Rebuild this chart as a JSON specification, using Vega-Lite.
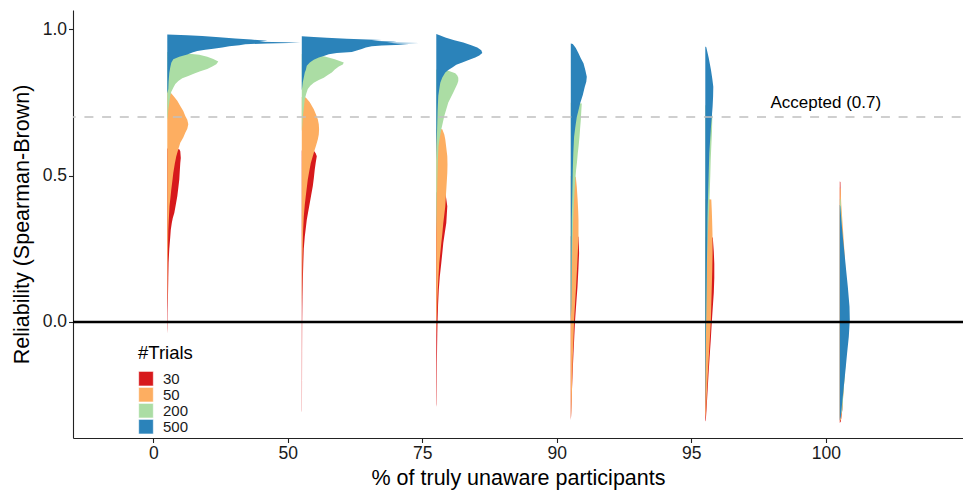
{
"$schema": "https://vega.github.io/schema/vega-lite/v6.json",
"width": 890, "height": 428,
"autosize": "none",
"padding": {"left": 73, "top": 10, "right": 0, "bottom": 55},
"config": {"view": {"stroke": null}, "font": "Liberation Sans", "background": "white"},
"datasets": {
"dens": [
{"p":"0","t":"500","r":0.981,"w":0},{"p":"0","t":"500","r":0.979,"w":20},{"p":"0","t":"500","r":0.976,"w":35},{"p":"0","t":"500","r":0.972,"w":52},{"p":"0","t":"500","r":0.968,"w":68},{"p":"0","t":"500","r":0.964,"w":84},{"p":"0","t":"500","r":0.960,"w":100},{"p":"0","t":"500","r":0.957,"w":92},{"p":"0","t":"500","r":0.955,"w":118},{"p":"0","t":"500","r":0.953,"w":133},{"p":"0","t":"500","r":0.951,"w":100},{"p":"0","t":"500","r":0.948,"w":78},{"p":"0","t":"500","r":0.945,"w":72},{"p":"0","t":"500","r":0.941,"w":62},{"p":"0","t":"500","r":0.937,"w":55},{"p":"0","t":"500","r":0.933,"w":46},{"p":"0","t":"500","r":0.929,"w":38},{"p":"0","t":"500","r":0.925,"w":30},{"p":"0","t":"500","r":0.920,"w":25},{"p":"0","t":"500","r":0.913,"w":20},{"p":"0","t":"500","r":0.905,"w":12},{"p":"0","t":"500","r":0.897,"w":6},{"p":"0","t":"500","r":0.885,"w":4},{"p":"0","t":"500","r":0.87,"w":3},{"p":"0","t":"500","r":0.85,"w":2},{"p":"0","t":"500","r":0.82,"w":1.3},{"p":"0","t":"500","r":0.795,"w":1},{"p":"0","t":"500","r":0.78,"w":0},
{"p":"0","t":"200","r":0.922,"w":0},{"p":"0","t":"200","r":0.918,"w":15},{"p":"0","t":"200","r":0.912,"w":32},{"p":"0","t":"200","r":0.905,"w":40},{"p":"0","t":"200","r":0.898,"w":46},{"p":"0","t":"200","r":0.889,"w":51},{"p":"0","t":"200","r":0.880,"w":49},{"p":"0","t":"200","r":0.872,"w":45},{"p":"0","t":"200","r":0.864,"w":40},{"p":"0","t":"200","r":0.856,"w":33},{"p":"0","t":"200","r":0.848,"w":27},{"p":"0","t":"200","r":0.840,"w":21},{"p":"0","t":"200","r":0.832,"w":15},{"p":"0","t":"200","r":0.823,"w":11},{"p":"0","t":"200","r":0.812,"w":8},{"p":"0","t":"200","r":0.800,"w":6},{"p":"0","t":"200","r":0.786,"w":4},{"p":"0","t":"200","r":0.772,"w":3},{"p":"0","t":"200","r":0.75,"w":2},{"p":"0","t":"200","r":0.726,"w":1},{"p":"0","t":"200","r":0.70,"w":0.5},{"p":"0","t":"200","r":0.69,"w":0},
{"p":"0","t":"50","r":0.789,"w":0},{"p":"0","t":"50","r":0.784,"w":3},{"p":"0","t":"50","r":0.772,"w":6},{"p":"0","t":"50","r":0.755,"w":10},{"p":"0","t":"50","r":0.737,"w":13},{"p":"0","t":"50","r":0.72,"w":16},{"p":"0","t":"50","r":0.703,"w":18},{"p":"0","t":"50","r":0.69,"w":20},{"p":"0","t":"50","r":0.675,"w":21},{"p":"0","t":"50","r":0.66,"w":20},{"p":"0","t":"50","r":0.646,"w":18},{"p":"0","t":"50","r":0.63,"w":16},{"p":"0","t":"50","r":0.612,"w":13},{"p":"0","t":"50","r":0.59,"w":11},{"p":"0","t":"50","r":0.566,"w":9},{"p":"0","t":"50","r":0.54,"w":7.5},{"p":"0","t":"50","r":0.509,"w":6},{"p":"0","t":"50","r":0.48,"w":5},{"p":"0","t":"50","r":0.452,"w":4},{"p":"0","t":"50","r":0.42,"w":3},{"p":"0","t":"50","r":0.395,"w":2.2},{"p":"0","t":"50","r":0.35,"w":1.5},{"p":"0","t":"50","r":0.315,"w":1},{"p":"0","t":"50","r":0.25,"w":0.7},{"p":"0","t":"50","r":0.2,"w":0.5},{"p":"0","t":"50","r":0.1,"w":0.3},{"p":"0","t":"50","r":0.05,"w":0},
{"p":"0","t":"30","r":0.592,"w":0},{"p":"0","t":"30","r":0.590,"w":12},{"p":"0","t":"30","r":0.583,"w":13},{"p":"0","t":"30","r":0.56,"w":13.5},{"p":"0","t":"30","r":0.543,"w":13},{"p":"0","t":"30","r":0.515,"w":12.5},{"p":"0","t":"30","r":0.486,"w":12},{"p":"0","t":"30","r":0.457,"w":11},{"p":"0","t":"30","r":0.429,"w":10},{"p":"0","t":"30","r":0.40,"w":8.5},{"p":"0","t":"30","r":0.372,"w":7},{"p":"0","t":"30","r":0.355,"w":5.5},{"p":"0","t":"30","r":0.338,"w":4.5},{"p":"0","t":"30","r":0.315,"w":3.5},{"p":"0","t":"30","r":0.292,"w":3},{"p":"0","t":"30","r":0.25,"w":2},{"p":"0","t":"30","r":0.201,"w":1.3},{"p":"0","t":"30","r":0.15,"w":1},{"p":"0","t":"30","r":0.087,"w":0.7},{"p":"0","t":"30","r":0.03,"w":0.4},{"p":"0","t":"30","r":-0.02,"w":0.3},{"p":"0","t":"30","r":-0.04,"w":0},

{"p":"50","t":"500","r":0.975,"w":0},{"p":"50","t":"500","r":0.973,"w":12},{"p":"50","t":"500","r":0.970,"w":25},{"p":"50","t":"500","r":0.967,"w":45},{"p":"50","t":"500","r":0.963,"w":80},{"p":"50","t":"500","r":0.960,"w":70},{"p":"50","t":"500","r":0.957,"w":95},{"p":"50","t":"500","r":0.954,"w":85},{"p":"50","t":"500","r":0.952,"w":117},{"p":"50","t":"500","r":0.950,"w":90},{"p":"50","t":"500","r":0.947,"w":107},{"p":"50","t":"500","r":0.944,"w":80},{"p":"50","t":"500","r":0.941,"w":70},{"p":"50","t":"500","r":0.937,"w":64},{"p":"50","t":"500","r":0.932,"w":60},{"p":"50","t":"500","r":0.927,"w":55},{"p":"50","t":"500","r":0.922,"w":50},{"p":"50","t":"500","r":0.918,"w":35},{"p":"50","t":"500","r":0.914,"w":27},{"p":"50","t":"500","r":0.908,"w":22},{"p":"50","t":"500","r":0.903,"w":17},{"p":"50","t":"500","r":0.895,"w":12},{"p":"50","t":"500","r":0.886,"w":8},{"p":"50","t":"500","r":0.875,"w":5},{"p":"50","t":"500","r":0.86,"w":4},{"p":"50","t":"500","r":0.852,"w":3},{"p":"50","t":"500","r":0.835,"w":2},{"p":"50","t":"500","r":0.818,"w":1},{"p":"50","t":"500","r":0.79,"w":0},
{"p":"50","t":"200","r":0.915,"w":0},{"p":"50","t":"200","r":0.910,"w":15},{"p":"50","t":"200","r":0.906,"w":23},{"p":"50","t":"200","r":0.897,"w":33},{"p":"50","t":"200","r":0.886,"w":42},{"p":"50","t":"200","r":0.879,"w":41},{"p":"50","t":"200","r":0.872,"w":37},{"p":"50","t":"200","r":0.862,"w":33},{"p":"50","t":"200","r":0.852,"w":30},{"p":"50","t":"200","r":0.843,"w":26},{"p":"50","t":"200","r":0.834,"w":22},{"p":"50","t":"200","r":0.826,"w":17},{"p":"50","t":"200","r":0.817,"w":12},{"p":"50","t":"200","r":0.806,"w":8.5},{"p":"50","t":"200","r":0.795,"w":6},{"p":"50","t":"200","r":0.78,"w":4.5},{"p":"50","t":"200","r":0.76,"w":3},{"p":"50","t":"200","r":0.73,"w":2},{"p":"50","t":"200","r":0.70,"w":1},{"p":"50","t":"200","r":0.67,"w":0.5},{"p":"50","t":"200","r":0.65,"w":0},
{"p":"50","t":"50","r":0.768,"w":0},{"p":"50","t":"50","r":0.766,"w":4},{"p":"50","t":"50","r":0.75,"w":8},{"p":"50","t":"50","r":0.726,"w":12},{"p":"50","t":"50","r":0.71,"w":14},{"p":"50","t":"50","r":0.692,"w":16},{"p":"50","t":"50","r":0.675,"w":17},{"p":"50","t":"50","r":0.658,"w":17.3},{"p":"50","t":"50","r":0.64,"w":17},{"p":"50","t":"50","r":0.623,"w":16},{"p":"50","t":"50","r":0.605,"w":14.5},{"p":"50","t":"50","r":0.589,"w":13},{"p":"50","t":"50","r":0.566,"w":11},{"p":"50","t":"50","r":0.543,"w":9},{"p":"50","t":"50","r":0.515,"w":7.5},{"p":"50","t":"50","r":0.486,"w":6},{"p":"50","t":"50","r":0.458,"w":5},{"p":"50","t":"50","r":0.43,"w":4},{"p":"50","t":"50","r":0.40,"w":3},{"p":"50","t":"50","r":0.36,"w":2},{"p":"50","t":"50","r":0.31,"w":1.3},{"p":"50","t":"50","r":0.26,"w":1},{"p":"50","t":"50","r":0.2,"w":0.6},{"p":"50","t":"50","r":0.1,"w":0.3},{"p":"50","t":"50","r":0.05,"w":0},
{"p":"50","t":"30","r":0.585,"w":0},{"p":"50","t":"30","r":0.583,"w":12.5},{"p":"50","t":"30","r":0.575,"w":14},{"p":"50","t":"30","r":0.566,"w":15},{"p":"50","t":"30","r":0.545,"w":14},{"p":"50","t":"30","r":0.521,"w":13},{"p":"50","t":"30","r":0.49,"w":12},{"p":"50","t":"30","r":0.463,"w":11},{"p":"50","t":"30","r":0.435,"w":9.5},{"p":"50","t":"30","r":0.406,"w":8},{"p":"50","t":"30","r":0.378,"w":6.5},{"p":"50","t":"30","r":0.349,"w":5},{"p":"50","t":"30","r":0.32,"w":4},{"p":"50","t":"30","r":0.292,"w":3},{"p":"50","t":"30","r":0.25,"w":2},{"p":"50","t":"30","r":0.2,"w":1.5},{"p":"50","t":"30","r":0.14,"w":1},{"p":"50","t":"30","r":0.087,"w":0.7},{"p":"50","t":"30","r":0.0,"w":0.4},{"p":"50","t":"30","r":-0.1,"w":0.3},{"p":"50","t":"30","r":-0.2,"w":0.25},{"p":"50","t":"30","r":-0.3,"w":0.2},{"p":"50","t":"30","r":-0.31,"w":0},

{"p":"75","t":"500","r":0.983,"w":0},{"p":"75","t":"500","r":0.978,"w":4},{"p":"75","t":"500","r":0.971,"w":9},{"p":"75","t":"500","r":0.962,"w":18},{"p":"75","t":"500","r":0.954,"w":27},{"p":"75","t":"500","r":0.945,"w":35},{"p":"75","t":"500","r":0.937,"w":41},{"p":"75","t":"500","r":0.928,"w":45},{"p":"75","t":"500","r":0.918,"w":46},{"p":"75","t":"500","r":0.910,"w":43},{"p":"75","t":"500","r":0.903,"w":39},{"p":"75","t":"500","r":0.895,"w":33},{"p":"75","t":"500","r":0.886,"w":26},{"p":"75","t":"500","r":0.878,"w":20},{"p":"75","t":"500","r":0.869,"w":16},{"p":"75","t":"500","r":0.860,"w":12},{"p":"75","t":"500","r":0.852,"w":9},{"p":"75","t":"500","r":0.835,"w":6},{"p":"75","t":"500","r":0.817,"w":4},{"p":"75","t":"500","r":0.795,"w":3},{"p":"75","t":"500","r":0.772,"w":2},{"p":"75","t":"500","r":0.72,"w":1.3},{"p":"75","t":"500","r":0.68,"w":1},{"p":"75","t":"500","r":0.6,"w":0.3},{"p":"75","t":"500","r":0.55,"w":0},
{"p":"75","t":"200","r":0.862,"w":0},{"p":"75","t":"200","r":0.858,"w":12},{"p":"75","t":"200","r":0.849,"w":19},{"p":"75","t":"200","r":0.841,"w":21},{"p":"75","t":"200","r":0.834,"w":22},{"p":"75","t":"200","r":0.823,"w":22},{"p":"75","t":"200","r":0.812,"w":21},{"p":"75","t":"200","r":0.798,"w":19},{"p":"75","t":"200","r":0.783,"w":17},{"p":"75","t":"200","r":0.766,"w":14.5},{"p":"75","t":"200","r":0.749,"w":12},{"p":"75","t":"200","r":0.726,"w":10},{"p":"75","t":"200","r":0.703,"w":8},{"p":"75","t":"200","r":0.68,"w":6.5},{"p":"75","t":"200","r":0.658,"w":5},{"p":"75","t":"200","r":0.63,"w":3.5},{"p":"75","t":"200","r":0.60,"w":2.2},{"p":"75","t":"200","r":0.55,"w":1.5},{"p":"75","t":"200","r":0.486,"w":1},{"p":"75","t":"200","r":0.43,"w":0.7},{"p":"75","t":"200","r":0.37,"w":0.5},{"p":"75","t":"200","r":0.3,"w":0},
{"p":"75","t":"50","r":0.66,"w":0},{"p":"75","t":"50","r":0.658,"w":6},{"p":"75","t":"50","r":0.64,"w":8},{"p":"75","t":"50","r":0.623,"w":9},{"p":"75","t":"50","r":0.595,"w":10},{"p":"75","t":"50","r":0.566,"w":11},{"p":"75","t":"50","r":0.538,"w":11.2},{"p":"75","t":"50","r":0.509,"w":11},{"p":"75","t":"50","r":0.48,"w":10.5},{"p":"75","t":"50","r":0.452,"w":10},{"p":"75","t":"50","r":0.424,"w":9.5},{"p":"75","t":"50","r":0.395,"w":9},{"p":"75","t":"50","r":0.366,"w":8},{"p":"75","t":"50","r":0.338,"w":7},{"p":"75","t":"50","r":0.30,"w":6},{"p":"75","t":"50","r":0.27,"w":5},{"p":"75","t":"50","r":0.235,"w":4},{"p":"75","t":"50","r":0.201,"w":3},{"p":"75","t":"50","r":0.155,"w":2.2},{"p":"75","t":"50","r":0.11,"w":1.5},{"p":"75","t":"50","r":0.07,"w":1},{"p":"75","t":"50","r":0.03,"w":0.7},{"p":"75","t":"50","r":0.0,"w":0.4},{"p":"75","t":"50","r":-0.05,"w":0},
{"p":"75","t":"30","r":0.443,"w":0},{"p":"75","t":"30","r":0.441,"w":9},{"p":"75","t":"30","r":0.42,"w":10},{"p":"75","t":"30","r":0.395,"w":11},{"p":"75","t":"30","r":0.366,"w":10.5},{"p":"75","t":"30","r":0.338,"w":10},{"p":"75","t":"30","r":0.305,"w":8.5},{"p":"75","t":"30","r":0.27,"w":7},{"p":"75","t":"30","r":0.235,"w":6},{"p":"75","t":"30","r":0.201,"w":5},{"p":"75","t":"30","r":0.155,"w":3.5},{"p":"75","t":"30","r":0.11,"w":2.5},{"p":"75","t":"30","r":0.06,"w":1.8},{"p":"75","t":"30","r":0.007,"w":1.3},{"p":"75","t":"30","r":-0.04,"w":1},{"p":"75","t":"30","r":-0.084,"w":0.8},{"p":"75","t":"30","r":-0.14,"w":0.6},{"p":"75","t":"30","r":-0.2,"w":0.5},{"p":"75","t":"30","r":-0.25,"w":0.4},{"p":"75","t":"30","r":-0.28,"w":0.3},{"p":"75","t":"30","r":-0.29,"w":0},

{"p":"90","t":"500","r":0.951,"w":0},{"p":"90","t":"500","r":0.949,"w":2},{"p":"90","t":"500","r":0.935,"w":5},{"p":"90","t":"500","r":0.917,"w":7.7},{"p":"90","t":"500","r":0.9,"w":10},{"p":"90","t":"500","r":0.883,"w":12.7},{"p":"90","t":"500","r":0.86,"w":14.5},{"p":"90","t":"500","r":0.837,"w":16},{"p":"90","t":"500","r":0.82,"w":15.5},{"p":"90","t":"500","r":0.803,"w":14},{"p":"90","t":"500","r":0.775,"w":12},{"p":"90","t":"500","r":0.746,"w":9.3},{"p":"90","t":"500","r":0.72,"w":7.5},{"p":"90","t":"500","r":0.70,"w":6},{"p":"90","t":"500","r":0.665,"w":4.5},{"p":"90","t":"500","r":0.632,"w":3.3},{"p":"90","t":"500","r":0.575,"w":2.5},{"p":"90","t":"500","r":0.519,"w":2},{"p":"90","t":"500","r":0.43,"w":1.5},{"p":"90","t":"500","r":0.348,"w":1},{"p":"90","t":"500","r":0.25,"w":0.8},{"p":"90","t":"500","r":0.15,"w":0.6},{"p":"90","t":"500","r":0.05,"w":0.4},{"p":"90","t":"500","r":0.0,"w":0},
{"p":"90","t":"200","r":0.748,"w":0},{"p":"90","t":"200","r":0.746,"w":11},{"p":"90","t":"200","r":0.72,"w":10.5},{"p":"90","t":"200","r":0.689,"w":10},{"p":"90","t":"200","r":0.66,"w":9.3},{"p":"90","t":"200","r":0.632,"w":8.7},{"p":"90","t":"200","r":0.60,"w":7.8},{"p":"90","t":"200","r":0.576,"w":7},{"p":"90","t":"200","r":0.545,"w":6.2},{"p":"90","t":"200","r":0.519,"w":5.3},{"p":"90","t":"200","r":0.485,"w":4.5},{"p":"90","t":"200","r":0.45,"w":3.8},{"p":"90","t":"200","r":0.40,"w":3},{"p":"90","t":"200","r":0.34,"w":2.3},{"p":"90","t":"200","r":0.28,"w":1.8},{"p":"90","t":"200","r":0.2,"w":1.3},{"p":"90","t":"200","r":0.12,"w":0.9},{"p":"90","t":"200","r":0.05,"w":0.5},{"p":"90","t":"200","r":0.0,"w":0},
{"p":"90","t":"50","r":0.498,"w":0},{"p":"90","t":"50","r":0.496,"w":5},{"p":"90","t":"50","r":0.462,"w":6},{"p":"90","t":"50","r":0.42,"w":6.8},{"p":"90","t":"50","r":0.38,"w":7.4},{"p":"90","t":"50","r":0.348,"w":7.7},{"p":"90","t":"50","r":0.29,"w":7.7},{"p":"90","t":"50","r":0.235,"w":7},{"p":"90","t":"50","r":0.18,"w":6.2},{"p":"90","t":"50","r":0.12,"w":5.3},{"p":"90","t":"50","r":0.065,"w":4.3},{"p":"90","t":"50","r":0.007,"w":3.3},{"p":"90","t":"50","r":-0.06,"w":2.7},{"p":"90","t":"50","r":-0.12,"w":2},{"p":"90","t":"50","r":-0.2,"w":1.4},{"p":"90","t":"50","r":-0.26,"w":1},{"p":"90","t":"50","r":-0.31,"w":0.5},{"p":"90","t":"50","r":-0.33,"w":0},
{"p":"90","t":"30","r":0.293,"w":0},{"p":"90","t":"30","r":0.291,"w":7.7},{"p":"90","t":"30","r":0.26,"w":8.1},{"p":"90","t":"30","r":0.235,"w":8.3},{"p":"90","t":"30","r":0.18,"w":7.6},{"p":"90","t":"30","r":0.12,"w":6.7},{"p":"90","t":"30","r":0.065,"w":5.5},{"p":"90","t":"30","r":0.007,"w":4.3},{"p":"90","t":"30","r":-0.05,"w":3.5},{"p":"90","t":"30","r":-0.107,"w":2.7},{"p":"90","t":"30","r":-0.16,"w":2},{"p":"90","t":"30","r":-0.22,"w":1.3},{"p":"90","t":"30","r":-0.27,"w":0.8},{"p":"90","t":"30","r":-0.323,"w":0.3},{"p":"90","t":"30","r":-0.335,"w":0},

{"p":"95","t":"500","r":0.94,"w":0},{"p":"95","t":"500","r":0.938,"w":1},{"p":"95","t":"500","r":0.90,"w":3.5},{"p":"95","t":"500","r":0.86,"w":5.7},{"p":"95","t":"500","r":0.83,"w":7},{"p":"95","t":"500","r":0.803,"w":8},{"p":"95","t":"500","r":0.77,"w":7.8},{"p":"95","t":"500","r":0.735,"w":7.3},{"p":"95","t":"500","r":0.70,"w":6.5},{"p":"95","t":"500","r":0.667,"w":5.7},{"p":"95","t":"500","r":0.62,"w":4.8},{"p":"95","t":"500","r":0.576,"w":4},{"p":"95","t":"500","r":0.52,"w":3.5},{"p":"95","t":"500","r":0.462,"w":3},{"p":"95","t":"500","r":0.40,"w":2.5},{"p":"95","t":"500","r":0.35,"w":2.2},{"p":"95","t":"500","r":0.28,"w":2},{"p":"95","t":"500","r":0.2,"w":1.6},{"p":"95","t":"500","r":0.12,"w":1.3},{"p":"95","t":"500","r":0.05,"w":1},{"p":"95","t":"500","r":0.0,"w":0.8},{"p":"95","t":"500","r":-0.08,"w":0.6},{"p":"95","t":"500","r":-0.16,"w":0.4},{"p":"95","t":"500","r":-0.25,"w":0.2},{"p":"95","t":"500","r":-0.3,"w":0},
{"p":"95","t":"200","r":0.74,"w":0},{"p":"95","t":"200","r":0.738,"w":6},{"p":"95","t":"200","r":0.70,"w":7},{"p":"95","t":"200","r":0.65,"w":6.7},{"p":"95","t":"200","r":0.60,"w":6},{"p":"95","t":"200","r":0.55,"w":5.4},{"p":"95","t":"200","r":0.50,"w":5},{"p":"95","t":"200","r":0.45,"w":4.5},{"p":"95","t":"200","r":0.40,"w":4},{"p":"95","t":"200","r":0.35,"w":3.3},{"p":"95","t":"200","r":0.3,"w":2.6},{"p":"95","t":"200","r":0.2,"w":1.8},{"p":"95","t":"200","r":0.1,"w":1.3},{"p":"95","t":"200","r":0.0,"w":0.9},{"p":"95","t":"200","r":-0.1,"w":0.6},{"p":"95","t":"200","r":-0.2,"w":0.3},{"p":"95","t":"200","r":-0.25,"w":0},
{"p":"95","t":"50","r":0.42,"w":0},{"p":"95","t":"50","r":0.418,"w":6},{"p":"95","t":"50","r":0.38,"w":6.5},{"p":"95","t":"50","r":0.35,"w":6.8},{"p":"95","t":"50","r":0.30,"w":7.2},{"p":"95","t":"50","r":0.235,"w":7.3},{"p":"95","t":"50","r":0.18,"w":7},{"p":"95","t":"50","r":0.12,"w":6.5},{"p":"95","t":"50","r":0.06,"w":6},{"p":"95","t":"50","r":0.0,"w":5.5},{"p":"95","t":"50","r":-0.06,"w":4.5},{"p":"95","t":"50","r":-0.12,"w":3.5},{"p":"95","t":"50","r":-0.18,"w":2.5},{"p":"95","t":"50","r":-0.25,"w":1.5},{"p":"95","t":"50","r":-0.31,"w":0.7},{"p":"95","t":"50","r":-0.33,"w":0},
{"p":"95","t":"30","r":0.29,"w":0},{"p":"95","t":"30","r":0.288,"w":7.5},{"p":"95","t":"30","r":0.24,"w":8.5},{"p":"95","t":"30","r":0.2,"w":9},{"p":"95","t":"30","r":0.15,"w":9},{"p":"95","t":"30","r":0.10,"w":8.5},{"p":"95","t":"30","r":0.05,"w":7.5},{"p":"95","t":"30","r":0.0,"w":6.5},{"p":"95","t":"30","r":-0.06,"w":5.5},{"p":"95","t":"30","r":-0.12,"w":4.3},{"p":"95","t":"30","r":-0.18,"w":3.2},{"p":"95","t":"30","r":-0.24,"w":2.2},{"p":"95","t":"30","r":-0.3,"w":1.2},{"p":"95","t":"30","r":-0.335,"w":0.5},{"p":"95","t":"30","r":-0.34,"w":0},

{"p":"100","t":"500","r":0.40,"w":0},{"p":"100","t":"500","r":0.395,"w":0.5},{"p":"100","t":"500","r":0.349,"w":1.5},{"p":"100","t":"500","r":0.292,"w":3},{"p":"100","t":"500","r":0.235,"w":4.7},{"p":"100","t":"500","r":0.178,"w":6.3},{"p":"100","t":"500","r":0.121,"w":8},{"p":"100","t":"500","r":0.053,"w":9.7},{"p":"100","t":"500","r":0.007,"w":10},{"p":"100","t":"500","r":-0.05,"w":9},{"p":"100","t":"500","r":-0.107,"w":7.3},{"p":"100","t":"500","r":-0.164,"w":5.7},{"p":"100","t":"500","r":-0.221,"w":4},{"p":"100","t":"500","r":-0.278,"w":2.3},{"p":"100","t":"500","r":-0.324,"w":1},{"p":"100","t":"500","r":-0.335,"w":0},
{"p":"100","t":"200","r":0.42,"w":0},{"p":"100","t":"200","r":0.418,"w":0.8},{"p":"100","t":"200","r":0.30,"w":2.5},{"p":"100","t":"200","r":0.15,"w":5.5},{"p":"100","t":"200","r":0.0,"w":7.5},{"p":"100","t":"200","r":-0.15,"w":5.5},{"p":"100","t":"200","r":-0.3,"w":2.5},{"p":"100","t":"200","r":-0.33,"w":0},
{"p":"100","t":"50","r":0.46,"w":0},{"p":"100","t":"50","r":0.455,"w":0.8},{"p":"100","t":"50","r":0.40,"w":1.5},{"p":"100","t":"50","r":0.35,"w":2.5},{"p":"100","t":"50","r":0.30,"w":3.5},{"p":"100","t":"50","r":0.25,"w":4.5},{"p":"100","t":"50","r":0.15,"w":6},{"p":"100","t":"50","r":0.05,"w":7},{"p":"100","t":"50","r":-0.05,"w":7},{"p":"100","t":"50","r":-0.15,"w":5.5},{"p":"100","t":"50","r":-0.25,"w":3.5},{"p":"100","t":"50","r":-0.33,"w":1.5},{"p":"100","t":"50","r":-0.34,"w":0},
{"p":"100","t":"30","r":0.48,"w":0},{"p":"100","t":"30","r":0.478,"w":0.6},{"p":"100","t":"30","r":0.40,"w":1},{"p":"100","t":"30","r":0.30,"w":2},{"p":"100","t":"30","r":0.20,"w":3},{"p":"100","t":"30","r":0.10,"w":4},{"p":"100","t":"30","r":0.0,"w":5},{"p":"100","t":"30","r":-0.1,"w":5},{"p":"100","t":"30","r":-0.2,"w":4},{"p":"100","t":"30","r":-0.3,"w":2.5},{"p":"100","t":"30","r":-0.34,"w":1},{"p":"100","t":"30","r":-0.345,"w":0}
],
"lab": [{"p":"100","r":0.7,"txt":"Accepted (0.7)"}]
},
"layer": [
{"data":{"name":"dens"},
 "transform":[{"filter":"datum.t==='30'"},{"calculate":"indexof(['0','50','75','90','95','100'], datum.p) + 1.104","as":"xb"},{"calculate":"datum.xb + datum.w/134.5","as":"xr"}],
 "mark":{"type":"area","orient":"horizontal"},
 "encoding":{
  "y":{"field":"r","type":"quantitative","scale":{"domain":[-0.396,1.065],"nice":false,"zero":false},
   "axis":{"values":[0,0.5,1],"format":".1f","title":"Reliability (Spearman-Brown)","grid":false,"domainColor":"#222","domainWidth":1.1,"tickColor":"#222","tickSize":4.5,"tickWidth":1.1,"labelFontSize":17.5,"labelColor":"#1a1a1a","labelPadding":2,"titleFontSize":21.5,"titleFontWeight":"normal","titleColor":"#000","titleX":-51,"titleBaseline":"middle"}},
  "x":{"field":"xr","type":"quantitative","scale":{"domain":[0.403,7.02],"nice":false,"zero":false},
   "axis":{"values":[1,2,3,4,5,6],"labelExpr":"['0','50','75','90','95','100'][datum.value-1]","title":"% of truly unaware participants","grid":false,"domainColor":"#222","domainWidth":1.1,"tickColor":"#222","tickSize":4.5,"tickWidth":1.1,"labelFontSize":17.5,"labelColor":"#1a1a1a","labelPadding":2,"labelFlush":false,"titleFontSize":21.5,"titleFontWeight":"normal","titleColor":"#000","titleY":29,"titleBaseline":"top"}},
  "x2":{"field":"xb"},
  "detail":{"field":"p"},
  "color":{"field":"t","type":"nominal","scale":{"domain":["30","50","200","500"],"range":["#d7191c","#fdae61","#abdda4","#2b83ba"]},
   "legend":{"title":"#Trials","orient":"none","legendX":65,"legendY":334,"padding":0,"titleFontSize":18.5,"titleFontWeight":"normal","titleColor":"#000","titlePadding":9,"labelFontSize":15,"labelColor":"#1a1a1a","labelOffset":9,"symbolType":"square","symbolSize":215,"symbolStrokeColor":"white","symbolStrokeWidth":0.6,"symbolOpacity":1,"rowPadding":-1.8,"clipHeight":14.3}}
 }},
{"data":{"name":"dens"},
 "transform":[{"filter":"datum.t==='50'"},{"calculate":"indexof(['0','50','75','90','95','100'], datum.p) + 1.104","as":"xb"},{"calculate":"datum.xb + datum.w/134.5","as":"xr"}],
 "mark":{"type":"area","orient":"horizontal"},
 "encoding":{"y":{"field":"r","type":"quantitative"},"x":{"field":"xr","type":"quantitative"},"x2":{"field":"xb"},"detail":{"field":"p"},"color":{"field":"t","type":"nominal"}}},
{"data":{"name":"dens"},
 "transform":[{"filter":"datum.t==='200'"},{"calculate":"indexof(['0','50','75','90','95','100'], datum.p) + 1.104","as":"xb"},{"calculate":"datum.xb + datum.w/134.5","as":"xr"}],
 "mark":{"type":"area","orient":"horizontal"},
 "encoding":{"y":{"field":"r","type":"quantitative"},"x":{"field":"xr","type":"quantitative"},"x2":{"field":"xb"},"detail":{"field":"p"},"color":{"field":"t","type":"nominal"}}},
{"data":{"name":"dens"},
 "transform":[{"filter":"datum.t==='500'"},{"calculate":"indexof(['0','50','75','90','95','100'], datum.p) + 1.104","as":"xb"},{"calculate":"datum.xb + datum.w/134.5","as":"xr"}],
 "mark":{"type":"area","orient":"horizontal"},
 "encoding":{"y":{"field":"r","type":"quantitative"},"x":{"field":"xr","type":"quantitative"},"x2":{"field":"xb"},"detail":{"field":"p"},"color":{"field":"t","type":"nominal"}}},
{"data":{"values":[{"r":0.7}]},
 "mark":{"type":"rule","color":"#c0c0c0","strokeWidth":1.6,"strokeDash":[9,8.7],"strokeDashOffset":15.4},
 "encoding":{"y":{"field":"r","type":"quantitative"}}},
{"data":{"values":[{"r":0}]},
 "mark":{"type":"rule","color":"#000","strokeWidth":2.5},
 "encoding":{"y":{"field":"r","type":"quantitative"}}},
{"data":{"name":"lab"},
 "transform":[{"calculate":"indexof(['0','50','75','90','95','100'], datum.p) + 1","as":"xi"}],
 "mark":{"type":"text","fontSize":17,"color":"#000","baseline":"alphabetic","align":"center","dy":-8.6},
 "encoding":{"x":{"field":"xi","type":"quantitative"},"y":{"field":"r","type":"quantitative"},"text":{"field":"txt"}}}
]
}
